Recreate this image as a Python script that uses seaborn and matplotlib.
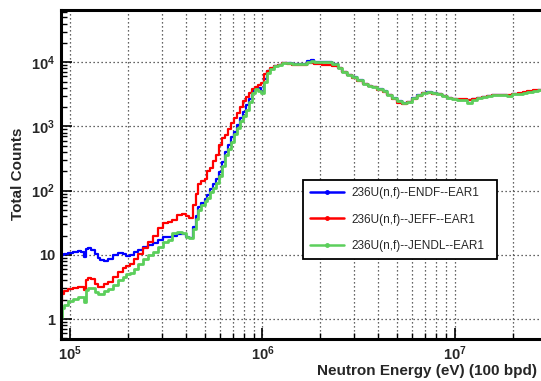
import matplotlib
matplotlib.use("Agg")
import matplotlib.pyplot as plt
import seaborn as sns
import pandas as pd
from matplotlib.lines import Line2D
from matplotlib.ticker import LogLocator, NullFormatter

# ---- data ----
energy_eV = [
    8.98e4, 9.20e4, 9.53e4, 1.00e5, 1.062e5, 1.127e5, 1.168e5, 1.196e5, 1.225e5, 1.270e5,
    1.317e5, 1.365e5, 1.415e5, 1.466e5, 1.538e5, 1.614e5, 1.714e5, 1.820e5, 1.932e5, 2.00e5,
    2.099e5, 2.203e5, 2.311e5, 2.454e5, 2.604e5, 2.765e5, 2.935e5, 3.116e5, 3.307e5, 3.511e5,
    3.727e5, 3.955e5, 4.10e5, 4.253e5, 4.41e5, 4.57e5, 4.73e5, 4.91e5, 5.09e5, 5.27e5,
    5.47e5, 5.66e5, 5.87e5, 6.08e5, 6.31e5, 6.54e5, 6.78e5, 7.03e5, 7.28e5, 7.55e5,
    7.83e5, 8.11e5, 8.41e5, 8.71e5, 9.03e5, 9.36e5, 9.70e5, 1.006e6, 1.043e6, 1.081e6,
    1.120e6, 1.175e6, 1.233e6, 1.309e6, 1.389e6, 1.475e6, 1.566e6, 1.662e6, 1.765e6, 1.828e6,
    1.896e6, 1.99e6, 2.11e6, 2.24e6, 2.38e6, 2.53e6, 2.68e6, 2.85e6, 3.02e6, 3.21e6,
    3.41e6, 3.62e6, 3.84e6, 4.08e6, 4.33e6, 4.59e6, 4.88e6, 5.18e6, 5.50e6, 5.83e6,
    6.19e6, 6.57e6, 6.98e6, 7.41e6, 7.87e6, 8.35e6, 8.87e6, 9.42e6, 1.00e7, 1.062e7,
    1.127e7, 1.196e7, 1.270e7, 1.348e7, 1.431e7, 1.52e7, 1.614e7, 1.713e7, 1.82e7, 1.93e7,
    2.05e7, 2.18e7, 2.31e7, 2.45e7, 2.61e7, 2.80e7,
]

counts_endf = [
    8.3, 10.0, 10.5, 10.8, 11.2, 11.5, 11.2, 9.3, 12.5, 12.8,
    12.0, 10.5, 9.0, 8.2, 8.0, 8.5, 10.0, 10.8, 10.5, 9.5,
    10.0, 11.0, 12.0, 13.3, 14.0, 15.3, 17.0, 19.0, 19.0, 20.0,
    21.0, 21.0, 19.0, 18.5, 27.0, 40.0, 55.0, 64.0, 75.0, 85.0,
    105.0, 125.0, 150.0, 195.0, 280.0, 400.0, 520.0, 680.0, 830.0, 1050.0,
    1350.0, 1700.0, 2150.0, 2700.0, 3500.0, 3900.0, 3950.0, 3400.0, 5500.0, 7200.0,
    7900.0, 8800.0, 9200.0, 9600.0, 9600.0, 9400.0, 9300.0, 9500.0, 10500.0, 11000.0,
    10000.0, 9900.0, 10000.0, 10000.0, 9300.0, 8200.0, 7100.0, 6400.0, 5800.0, 5200.0,
    4600.0, 4300.0, 4100.0, 3800.0, 3500.0, 3100.0, 2750.0, 2450.0, 2300.0, 2400.0,
    2750.0, 3050.0, 3350.0, 3400.0, 3300.0, 3200.0, 3000.0, 2800.0, 2650.0, 2600.0,
    2600.0, 2600.0, 2650.0, 2750.0, 2900.0, 2950.0, 3050.0, 3100.0, 3050.0, 3000.0,
    3150.0, 3250.0, 3350.0, 3450.0, 3600.0, 3700.0,
]

counts_jeff = [
    1.85, 2.5, 2.7, 2.9, 3.1, 3.2, 3.2, 2.8, 4.0, 4.3,
    4.2, 3.5, 3.2, 3.2, 3.5, 3.8, 4.5, 5.5, 6.3, 6.6,
    7.2, 8.5, 10.5, 12.7, 15.8, 20.0, 26.0, 31.0, 32.0, 35.0,
    42.0, 44.0, 41.0, 38.0, 60.0, 90.0, 125.0, 140.0, 150.0, 200.0,
    225.0, 290.0, 360.0, 520.0, 650.0, 730.0, 900.0, 1150.0, 1350.0, 1600.0,
    2000.0, 2500.0, 2900.0, 3300.0, 3800.0, 4100.0, 4400.0, 4800.0, 6500.0, 7300.0,
    8200.0, 8800.0, 9200.0, 9600.0, 9500.0, 9200.0, 9000.0, 9200.0, 9600.0, 9700.0,
    9500.0, 9300.0, 9100.0, 9000.0, 8800.0, 8000.0, 7000.0, 6300.0, 5700.0, 5100.0,
    4600.0, 4300.0, 4050.0, 3750.0, 3450.0, 3050.0, 2700.0, 2350.0, 2250.0, 2400.0,
    2700.0, 3000.0, 3300.0, 3350.0, 3250.0, 3150.0, 2950.0, 2800.0, 2650.0, 2650.0,
    2650.0, 2600.0, 2650.0, 2750.0, 2850.0, 2950.0, 3050.0, 3100.0, 3050.0, 3050.0,
    3200.0, 3300.0, 3400.0, 3500.0, 3650.0, 3700.0,
]

counts_jendl = [
    1.07, 1.5, 1.65, 1.9, 2.05, 2.2, 2.2, 1.85, 2.8, 3.1,
    3.0, 2.6, 2.45, 2.5, 2.7, 2.9, 3.4, 4.0, 4.6, 5.0,
    5.2, 6.0, 7.3, 8.5, 9.9, 11.0, 13.3, 15.8, 17.0, 22.0,
    23.0, 22.0, 19.0, 18.0, 25.0, 36.0, 50.0, 60.0, 68.0, 76.0,
    95.0, 110.0, 130.0, 170.0, 240.0, 360.0, 450.0, 580.0, 750.0, 950.0,
    1200.0, 1450.0, 1780.0, 2400.0, 3300.0, 3800.0, 3500.0, 3300.0, 5000.0, 6800.0,
    7800.0, 8800.0, 9200.0, 9600.0, 9600.0, 9400.0, 9300.0, 9500.0, 10200.0, 10300.0,
    10000.0, 9900.0, 10000.0, 10000.0, 9300.0, 8200.0, 7100.0, 6400.0, 5800.0, 5200.0,
    4600.0, 4300.0, 4100.0, 3800.0, 3500.0, 3100.0, 2750.0, 2450.0, 2350.0, 2400.0,
    2750.0, 3050.0, 3350.0, 3400.0, 3300.0, 3200.0, 3000.0, 2800.0, 2650.0, 2600.0,
    2550.0, 2300.0, 2600.0, 2750.0, 2850.0, 2950.0, 3050.0, 3100.0, 3050.0, 3000.0,
    3150.0, 3250.0, 3350.0, 3450.0, 3600.0, 3700.0,
]

series_labels = ["236U(n,f)--ENDF--EAR1", "236U(n,f)--JEFF--EAR1", "236U(n,f)--JENDL--EAR1"]
series_colors = ["#0000ff", "#ff0000", "#5ccf5c"]
y_tick_values = [1, 10, 100, 1000, 10000]
y_tick_labels = ["1", "10", r"$\mathbf{10^{2}}$", r"$\mathbf{10^{3}}$", r"$\mathbf{10^{4}}$"]
x_tick_values = [1e5, 1e6, 1e7]
x_tick_labels = [r"$\mathbf{10^{5}}$", r"$\mathbf{10^{6}}$", r"$\mathbf{10^{7}}$"]
x_title = "Neutron Energy (eV) (100 bpd)"
y_title = "Total Counts"

# ---- style ----
sns.set_style("white")
plt.rcParams["font.family"] = ["Liberation Sans", "DejaVu Sans"]
plt.rcParams["mathtext.fontset"] = "custom"
plt.rcParams["mathtext.rm"] = "Liberation Sans"
plt.rcParams["mathtext.bf"] = "Liberation Sans:bold"

W, H = 541, 381
fig = plt.figure(figsize=(W / 100, H / 100), dpi=100)
ax_left, ax_right, ax_top, ax_bot = 60.7, 541, 10, 339
ax = fig.add_axes([ax_left / W, 1 - ax_bot / H, (ax_right - ax_left) / W, (ax_bot - ax_top) / H])

frames = []
for lab, vals in zip(series_labels, [counts_endf, counts_jeff, counts_jendl]):
    frames.append(pd.DataFrame({"energy": energy_eV, "counts": vals, "library": lab}))
df = pd.concat(frames, ignore_index=True)

widths = [1.6, 1.6, 2.0]
for lab, col, lw in zip(series_labels, series_colors, widths):
    sub = df[df["library"] == lab]
    sns.lineplot(data=sub, x="energy", y="counts", color=col, lw=lw, ax=ax,
                 drawstyle="steps-mid", estimator=None, legend=False)

ax.set_xscale("log")
ax.set_yscale("log")
ax.set_xlim(8.95e4, 2.80e7)
ax.set_ylim(0.49, 6.5e4)

# grid: x major+minor, y major only
grid_kw = dict(color="#333333", linestyle=(0, (1, 2.2)), linewidth=0.9)
ax.xaxis.set_minor_locator(LogLocator(base=10, subs=range(2, 10), numticks=20))
ax.yaxis.set_minor_locator(LogLocator(base=10, subs=range(2, 10), numticks=20))
ax.grid(True, which="both", axis="x", **grid_kw)
ax.grid(True, which="major", axis="y", **grid_kw)
ax.set_axisbelow(True)

ax.set_yticks(y_tick_values)
ax.set_yticklabels(y_tick_labels)
ax.set_xticks(x_tick_values)
ax.set_xticklabels(x_tick_labels)
ax.xaxis.set_minor_formatter(NullFormatter())
ax.yaxis.set_minor_formatter(NullFormatter())

for lab in ax.get_yticklabels() + ax.get_xticklabels():
    lab.set_fontweight("bold")
    lab.set_fontsize(10.5)

ax.tick_params(axis="both", which="major", direction="in", length=8, width=1.2, color="black")
ax.tick_params(axis="both", which="minor", direction="in", length=4, width=1.0, color="black")
ax.tick_params(axis="y", which="both", left=True, right=False, pad=4)
ax.tick_params(axis="x", which="both", bottom=True, top=False, pad=4)

for side in ["left", "bottom", "top"]:
    ax.spines[side].set_visible(True)
    ax.spines[side].set_linewidth(2.2)
    ax.spines[side].set_color("black")
ax.spines["right"].set_visible(False)

ax.set_xlabel("")
ax.set_ylabel("")
fig.text(537 / W, 1 - 371.5 / H, x_title, ha="right", va="center",
         fontsize=11, fontweight="bold")
fig.text(18 / W, 1 - 173.5 / H, y_title, ha="center", va="center", rotation=90,
         fontsize=11, fontweight="bold")

handles = [Line2D([0], [0], color=c, lw=1.8, marker="o", markersize=2.5) for c in series_colors]
leg = ax.legend(handles, series_labels, loc="center",
                bbox_to_anchor=(0.5045, 0.240, 0.404, 0.246), mode="expand",
                borderaxespad=0.0,
                fontsize=8.5, frameon=True, fancybox=False, framealpha=1,
                edgecolor="black", labelspacing=1.25, handlelength=2.9,
                handletextpad=0.6, borderpad=0.6, numpoints=1)
leg.get_frame().set_linewidth(1.3)

fig.savefig("out.png", dpi=100)
